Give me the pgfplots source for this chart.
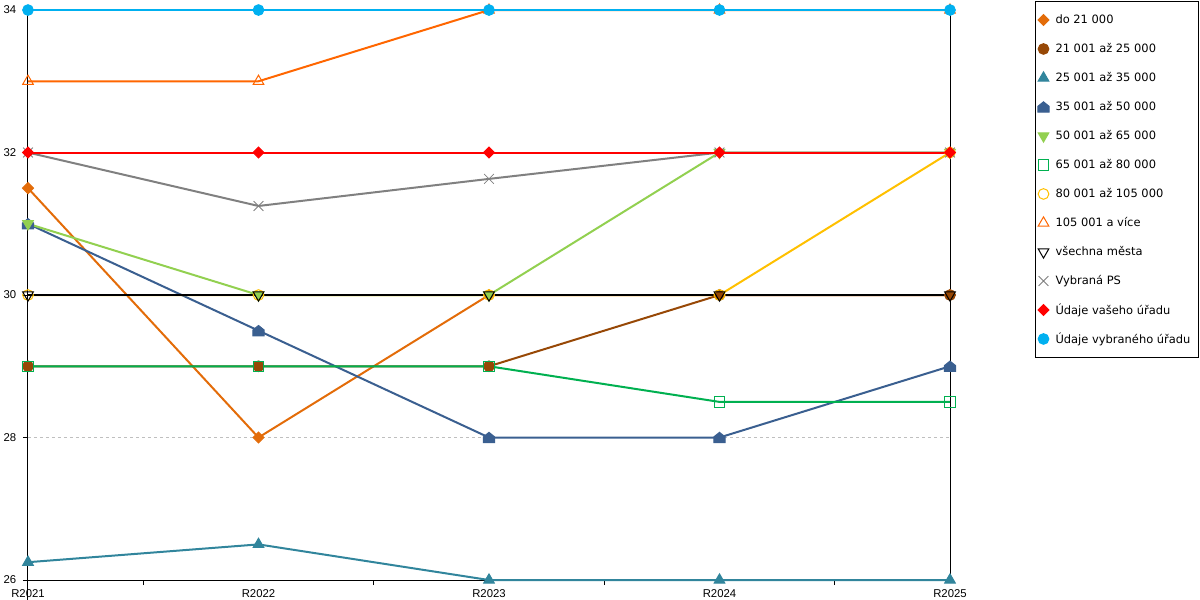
\documentclass[border=0pt]{standalone}
\usepackage{fontspec}
\setmainfont{DejaVu Sans}
\newfontfamily\tickfont{Liberation Sans}
\usepackage{pgfplots}
\pgfplotsset{compat=1.18}
\definecolor{c1}{HTML}{E36C09}
\definecolor{c2}{HTML}{974806}
\definecolor{c3}{HTML}{31859C}
\definecolor{c4}{HTML}{3A5F90}
\definecolor{c5}{HTML}{92D050}
\definecolor{c6}{HTML}{00B050}
\definecolor{c7}{HTML}{FFC000}
\definecolor{c8}{HTML}{FF6600}
\definecolor{c10}{HTML}{808080}
\definecolor{c11}{HTML}{FF0000}
\definecolor{c12}{HTML}{00B0F0}
\pgfdeclareplotmark{house*}{%
  \pgfpathmoveto{\pgfqpoint{-\pgfplotmarksize}{-0.9\pgfplotmarksize}}%
  \pgfpathlineto{\pgfqpoint{\pgfplotmarksize}{-0.9\pgfplotmarksize}}%
  \pgfpathlineto{\pgfqpoint{\pgfplotmarksize}{0.1\pgfplotmarksize}}%
  \pgfpathlineto{\pgfqpoint{0pt}{0.9\pgfplotmarksize}}%
  \pgfpathlineto{\pgfqpoint{-\pgfplotmarksize}{0.1\pgfplotmarksize}}%
  \pgfpathclose
  \pgfusepathqfillstroke}
\newcommand{\lt}[1]{\makebox[106pt][l]{#1}}
\begin{document}
\begin{tikzpicture}
\useasboundingbox (0,0) rectangle (900pt,450pt);
\begin{axis}[
  at={(21pt,15pt)}, anchor=south west,
  scale only axis, width=691.5pt, height=427.5pt,
  xmin=0, xmax=4, ymin=26, ymax=34,
  xtick={0,1,2,3,4}, xticklabels={R2021,R2022,R2023,R2024,R2025},
  minor xtick={0.5,1.5,2.5,3.5},
  ytick={26,28,30,32,34},
  axis x line*=bottom, axis y line*=left,
  tick align=outside,
  major tick length=3.75pt, minor tick length=3.75pt,
  major x tick style={draw=none},
  tick style={black, line width=0.75pt},
  axis line style={black, line width=0.75pt},
  ymajorgrids,
  grid style={color=black!25, line width=0.75pt, dash pattern=on 2.25pt off 2.25pt},
  ticklabel style={font=\tickfont\fontsize{8.5}{10}\selectfont},
  yticklabel style={xshift=-1.5pt},
  /pgf/number format/assume math mode=true,
  clip=false,
  every axis plot/.append style={line width=1.5pt},
  legend cell align=left,
  legend style={at={(1.0922,1.0166)}, anchor=north west, draw=black, line width=0.75pt,
    inner xsep=1.5pt, inner ysep=3.3pt, /tikz/row sep=0pt, /tikz/column sep=4.5pt,
    font=\fontsize{8.6}{10}\selectfont,
    nodes={inner sep=0pt, minimum height=21.75pt}},
  legend image code/.code={%
    \path[draw=none,fill=none] (0pt,-0.1pt) rectangle (9pt,0.1pt);
    \begin{pgfinterruptboundingbox}
    \draw[#1,only marks] plot coordinates {(4.5pt,0pt)};
    \end{pgfinterruptboundingbox}
  },
]
\addplot[c1, mark=square*, mark size=2.9pt, mark options={rotate=45, line width=0.75pt, solid}] coordinates {(0,31.5)(1,28)(2,30)(3,30)(4,30)};
\addlegendentry{\lt{do 21 000}}
\addplot[c2, mark=*, mark size=4pt, mark options={line width=0.75pt, solid}] coordinates {(0,29)(1,29)(2,29)(3,30)(4,30)};
\addlegendentry{\lt{21 001 až 25 000}}
\addplot[c3, mark=triangle*, mark size=4.6pt, mark options={line width=0.75pt, solid}] coordinates {(0,26.25)(1,26.5)(2,26)(3,26)(4,26)};
\addlegendentry{\lt{25 001 až 35 000}}
\addplot[c4, mark=house*, mark size=4.3pt, mark options={line width=0.75pt, solid}] coordinates {(0,31)(1,29.5)(2,28)(3,28)(4,29)};
\addlegendentry{\lt{35 001 až 50 000}}
\addplot[c5, mark=triangle*, mark size=4.6pt, mark options={rotate=180, line width=0.75pt, solid}] coordinates {(0,31)(1,30)(2,30)(3,32)(4,32)};
\addlegendentry{\lt{50 001 až 65 000}}
\addplot[c6, mark=square, mark size=3.9pt, mark options={line width=0.75pt, solid}] coordinates {(0,29)(1,29)(2,29)(3,28.5)(4,28.5)};
\addlegendentry{\lt{65 001 až 80 000}}
\addplot[c7, mark=o, mark size=4pt, mark options={line width=0.75pt, solid}] coordinates {(0,30)(1,30)(2,30)(3,30)(4,32)};
\addlegendentry{\lt{80 001 až 105 000}}
\addplot[c8, mark=triangle, mark size=4.6pt, mark options={fill=white, line width=0.75pt, solid}] coordinates {(0,33)(1,33)(2,34)(3,34)(4,34)};
\addlegendentry{\lt{105 001 a více}}
\addplot[black, line width=1.8pt, mark=triangle, mark size=4.6pt, mark options={rotate=180, line width=0.75pt, solid}] coordinates {(0,30)(1,30)(2,30)(3,30)(4,30)};
\addlegendentry{\lt{všechna města}}
\addplot[c10, mark=x, mark size=5.2pt, mark options={line width=0.6pt, solid}] coordinates {(0,32)(1,31.25)(2,31.63)(3,32)(4,32)};
\addlegendentry{\lt{Vybraná PS}}
\addplot[c11, mark=square*, mark size=2.9pt, mark options={rotate=45, line width=0.75pt, solid}] coordinates {(0,32)(1,32)(2,32)(3,32)(4,32)};
\addlegendentry{\lt{Údaje vašeho úřadu}}
\addplot[c12, mark=*, mark size=4pt, mark options={line width=0.75pt, solid}] coordinates {(0,34)(1,34)(2,34)(3,34)(4,34)};
\addlegendentry{\lt{Údaje vybraného úřadu}}
\draw[black, line width=0.75pt] (rel axis cs:0,0) ++(0,-4pt) -- (rel axis cs:0,1);
\draw[black, line width=0.75pt] (rel axis cs:1,0) -- (rel axis cs:1,1);
\end{axis}
\end{tikzpicture}
\end{document}
